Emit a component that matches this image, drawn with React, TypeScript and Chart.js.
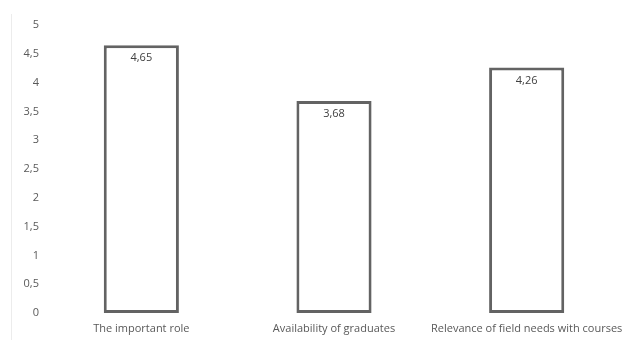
import React, { useEffect, useRef } from "react";
import { Chart, registerables } from "chart.js";

Chart.register(...registerables);

const categories = ["The important role", "Availability of graduates", "Relevance of field needs with courses"];
const values = [4.65, 3.68, 4.26];
const yTicks = [0, 0.5, 1, 1.5, 2, 2.5, 3, 3.5, 4, 4.5, 5];

const fmt = (v: number) => String(v).replace(".", ",");

const labelPlugin = {
  id: "valueLabels",
  afterDatasetsDraw(chart: any) {
    const ctx = chart.ctx;
    const meta = chart.getDatasetMeta(0);
    ctx.save();
    ctx.font = "11px 'Open Sans', sans-serif";
    ctx.fillStyle = "#404040";
    ctx.textAlign = "center";
    ctx.textBaseline = "middle";
    meta.data.forEach((el: any, i: number) => {
      ctx.fillText(values[i].toFixed(2).replace(".", ","), el.x, el.y + 13);
    });
    ctx.restore();
  },
};

const framePlugin = {
  id: "frameLine",
  beforeDraw(chart: any) {
    const ctx = chart.ctx;
    ctx.save();
    ctx.strokeStyle = "#ececec";
    ctx.lineWidth = 1;
    ctx.beginPath();
    ctx.moveTo(11.5, 14);
    ctx.lineTo(11.5, 340);
    ctx.stroke();
    ctx.restore();
  },
};

export default function App() {
  const ref = useRef<HTMLCanvasElement>(null);
  useEffect(() => {
    document.body.style.margin = "0";
    const chart = new Chart(ref.current!, {
      type: "bar",
      data: {
        labels: categories,
        datasets: [
          {
            data: values,
            backgroundColor: "#ffffff",
            borderColor: "#636363",
            borderWidth: 3,
            borderSkipped: false,
            categoryPercentage: 0.39,
            barPercentage: 1,
          },
        ],
      },
      options: {
        animation: false,
        responsive: false,
        layout: { padding: { top: 25, right: 1, bottom: 0, left: 0 } },
        plugins: { legend: { display: false }, tooltip: { enabled: false } },
        scales: {
          x: {
            grid: { display: false, drawTicks: false },
            border: { display: false },
            ticks: {
              color: "#595959",
              font: { size: 11, family: "'Open Sans', sans-serif" },
              padding: 9,
              maxRotation: 0,
              autoSkip: false,
            },
            afterFit(scale: any) {
              scale.height = 27;
              scale.paddingLeft = 0;
              scale.paddingRight = 0;
            },
          },
          y: {
            min: 0,
            max: 5,
            afterBuildTicks(scale: any) {
              scale.ticks = yTicks.map((v) => ({ value: v }));
            },
            grid: { display: false, drawTicks: false },
            border: { display: false },
            ticks: {
              color: "#595959",
              font: { size: 11, family: "'Open Sans', sans-serif" },
              padding: 6,
              callback: (v: any) => fmt(Number(v)),
            },
            afterFit(scale: any) {
              scale.width = 45;
              scale.paddingTop = 0;
              scale.paddingBottom = 0;
            },
          },
        },
      },
      plugins: [labelPlugin, framePlugin],
    });
    return () => chart.destroy();
  }, []);
  return (
    <div style={{ position: "absolute", left: 0, top: 0, width: 624, height: 340, background: "#fff" }}>
      <canvas ref={ref} width={624} height={340} style={{ width: 624, height: 340 }} />
    </div>
  );
}
